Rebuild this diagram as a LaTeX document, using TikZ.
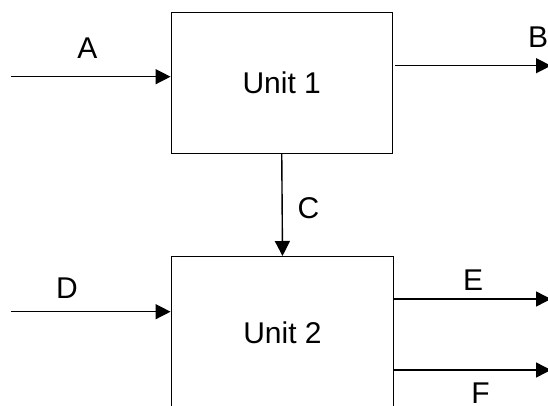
\documentclass[tikz,border=0pt]{standalone}
\usepackage{fontspec}
\setmainfont{Liberation Sans}
\usetikzlibrary{arrows.meta}
\begin{document}
\begin{tikzpicture}[x=1pt,y=-1pt,
  unitbox/.style={draw, line width=1.4pt, minimum width=221pt, inner sep=0pt, font=\fontsize{30}{36}\selectfont},
  lbl/.style={inner sep=0pt, font=\fontsize{30}{36}\selectfont},
  arr/.style={line width=1.4pt, -{Triangle[length=15pt,width=15pt]}}]
\useasboundingbox (0,0) rectangle (548,406);
\node[unitbox, minimum height=140.8pt] (u1) at (281.75,83.1) {Unit 1};
\node[unitbox, minimum height=152pt, minimum width=222.5pt] (u2) at (282.5,332.7) {Unit 2};
\coordinate (a0) at (11,76.7);
\coordinate (d0) at (11,311.7);
\coordinate (b1) at (551,65.7);
\coordinate (e1) at (551,299);
\coordinate (f1) at (551,370);
\draw[arr] (a0) -- (a0 -| u1.west);
\draw[arr] (d0) -- (d0 -| u2.west);
\draw[arr] ([xshift=2pt]b1 -| u1.east) -- (b1);
\draw[arr] (e1 -| u2.east) -- (e1);
\draw[arr] (f1 -| u2.east) -- (f1);
\draw[arr] (u1.south) -- (u2.north);
\node[lbl] (la) at (87.4,48.3) {A};
\node[lbl] (lb) at (538,37.3) {B};
\node[lbl] (lc) at (308.5,208.3) {C};
\node[lbl] (ld) at (67,288.3) {D};
\node[lbl] (le) at (473,280) {E};
\node[lbl] (lf) at (480.6,393) {F};
\end{tikzpicture}
\end{document}
